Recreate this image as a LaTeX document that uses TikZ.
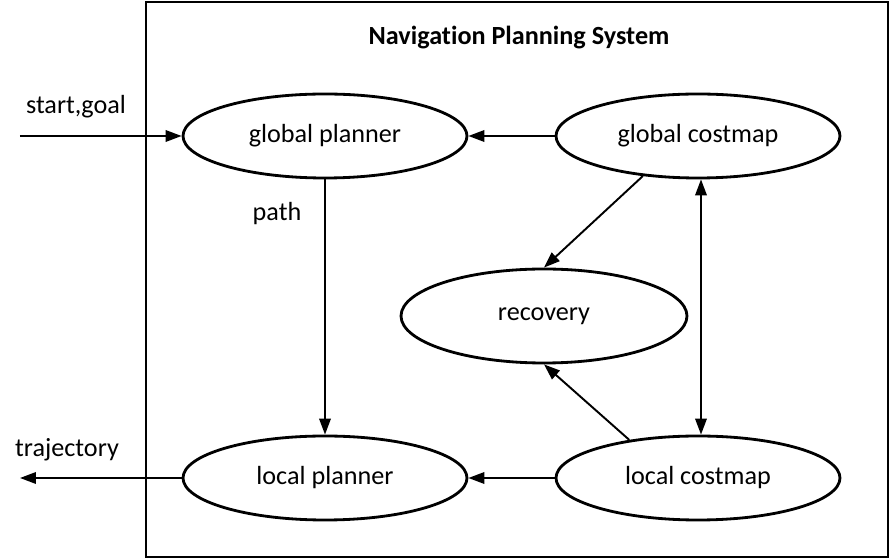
\documentclass[tikz,border=0pt]{standalone}
\usepackage{fontspec}
\setmainfont{Carlito}[Ligatures={NoCommon}]
\usetikzlibrary{arrows.meta,shapes.geometric}
\tikzset{
  blob/.style={ellipse, draw=black, line width=1.6pt, fill=white,
              inner sep=0pt, minimum width=5.68cm, minimum height=1.68cm},
  tag/.style={inner sep=1pt},
  flow/.style={-{Triangle[length=3.2mm,width=2.3mm]}, line width=1.1pt},
  both/.style={{Triangle[length=3.2mm,width=2.3mm]}-{Triangle[length=3.2mm,width=2.3mm]}, line width=1.1pt},
}

\begin{document}
\begin{tikzpicture}[font=\fontsize{14.9}{18}\selectfont]
        \useasboundingbox (0,0) rectangle (17.86,11.2);
        \draw[line width=1.1pt] (2.92,0.06) rectangle (17.76,11.16);
        \node[font=\fontsize{14.9}{18}\selectfont\bfseries] (title) at (10.38,10.44) {Navigation Planning System};
        % planners and maps
        \node[blob] (gplan) at (6.5,8.48) {global planner};
        \node[blob] (gcost) at (13.96,8.48) {global costmap};
        \node[blob,minimum width=5.72cm,minimum height=1.88cm] (recov) at (10.88,4.88) {recovery};
        \node[blob] (lplan) at (6.5,1.64) {local planner};
        \node[blob] (lcost) at (13.96,1.64) {local costmap};
        % outside in/out
        \coordinate (goalin) at (0.4,8.48);
        \coordinate (trajout) at (0.4,1.64);
        \node[tag] (goaltag) at (1.52,9.06) {start,goal};
        \node[tag] (trajtag) at (1.34,2.2) {trajectory};
        \node[tag] (pathtag) at (5.54,6.92) {path};
        \draw[flow] (goalin) -- (gplan.west);
        \draw[flow] (gcost.west) -- (gplan.east);
        \draw[flow] (gplan.south) -- (lplan.north);
        \draw[flow] (gcost.216) -- (recov.north);
        \draw[flow] (lcost.151) -- (recov.south);
        \draw[both] ([xshift=0.06cm]gcost.south) -- ([xshift=0.06cm]lcost.north);
        \draw[flow] (lcost.west) -- (lplan.east);
        \draw[flow] (lplan.west) -- (trajout);
      \end{tikzpicture}
\end{document}
